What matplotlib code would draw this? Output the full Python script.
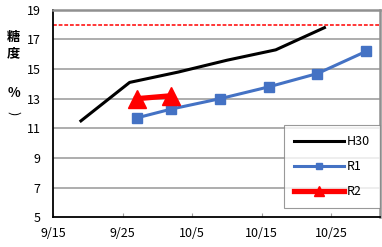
import matplotlib
matplotlib.use("Agg")
import matplotlib.pyplot as plt
import numpy as np

plt.rcParams['font.family'] = ['Noto Sans CJK JP', 'DejaVu Sans']

# days since 9/15
h30_days = [4, 11, 18, 25, 32, 39]
h30_vals = [11.5, 14.1, 14.8, 15.6, 16.3, 17.8]
r1_days = [12, 17, 24, 31, 38, 45]
r1_vals = [11.7, 12.3, 13.0, 13.8, 14.7, 16.2]
r2_days = [12, 17]
r2_vals = [13.0, 13.2]
target_val = 18.0
xtick_days = [0, 10, 20, 30, 40]
xtick_labels = ['9/15', '9/25', '10/5', '10/15', '10/25']
yticks = [5, 7, 9, 11, 13, 15, 17, 19]

fig = plt.figure(figsize=(3.82, 2.47), dpi=100)
ax = fig.add_axes([0.139, 0.121, 0.856, 0.839])

for y in yticks[1:-1]:
    ax.axhline(y, color='#a0a0a0', lw=1.2, zorder=1)
ax.axhline(target_val, color='#ff0000', lw=1.1, ls=(0, (2.5, 1.2)), zorder=2, snap=True)

ax.plot(h30_days, h30_vals, color='black', lw=2.2, label='H30', zorder=3)
ax.plot(r1_days, r1_vals, color='#4472C4', lw=2.2, marker='s', ms=7, label='R1', zorder=4)
ax.plot(r2_days, r2_vals, color='#FF0000', lw=3.8, marker='^', ms=13, label='R2', zorder=5)

ax.set_xlim(0, 47)
ax.set_ylim(5, 19)
ax.set_yticks(yticks)
ax.set_xticks(xtick_days)
ax.set_xticklabels(xtick_labels)
ax.tick_params(axis='y', length=0, pad=9, labelsize=9)
ax.tick_params(axis='x', direction='in', length=3, color='#a0a0a0', pad=7, labelsize=9)

for s in ['top', 'right']:
    ax.spines[s].set_color('#909090')
    ax.spines[s].set_linewidth(1.8)
for s in ['left', 'bottom']:
    ax.spines[s].set_color('black')
    ax.spines[s].set_linewidth(1.3)

fig.text(0.036, 0.88, '糖\n度', ha='center', va='top', fontsize=9.5,
         linespacing=1.2, fontweight='bold')
fig.text(0.036, 0.622, '%', ha='center', va='center', fontsize=9.5, fontweight='bold')
fig.text(0.036, 0.543, ')', ha='center', va='center', fontsize=9.5, rotation=-90)

leg = ax.legend(loc='lower right', bbox_to_anchor=(1.0, 0.043), frameon=True, fancybox=False,
                edgecolor='#808080', fontsize=9, handlelength=4.0, labelspacing=0.95,
                borderpad=0.8, handletextpad=0.2, markerscale=0.6, borderaxespad=0)
leg.get_frame().set_linewidth(0.8)

fig.savefig('out.png', dpi=100)
